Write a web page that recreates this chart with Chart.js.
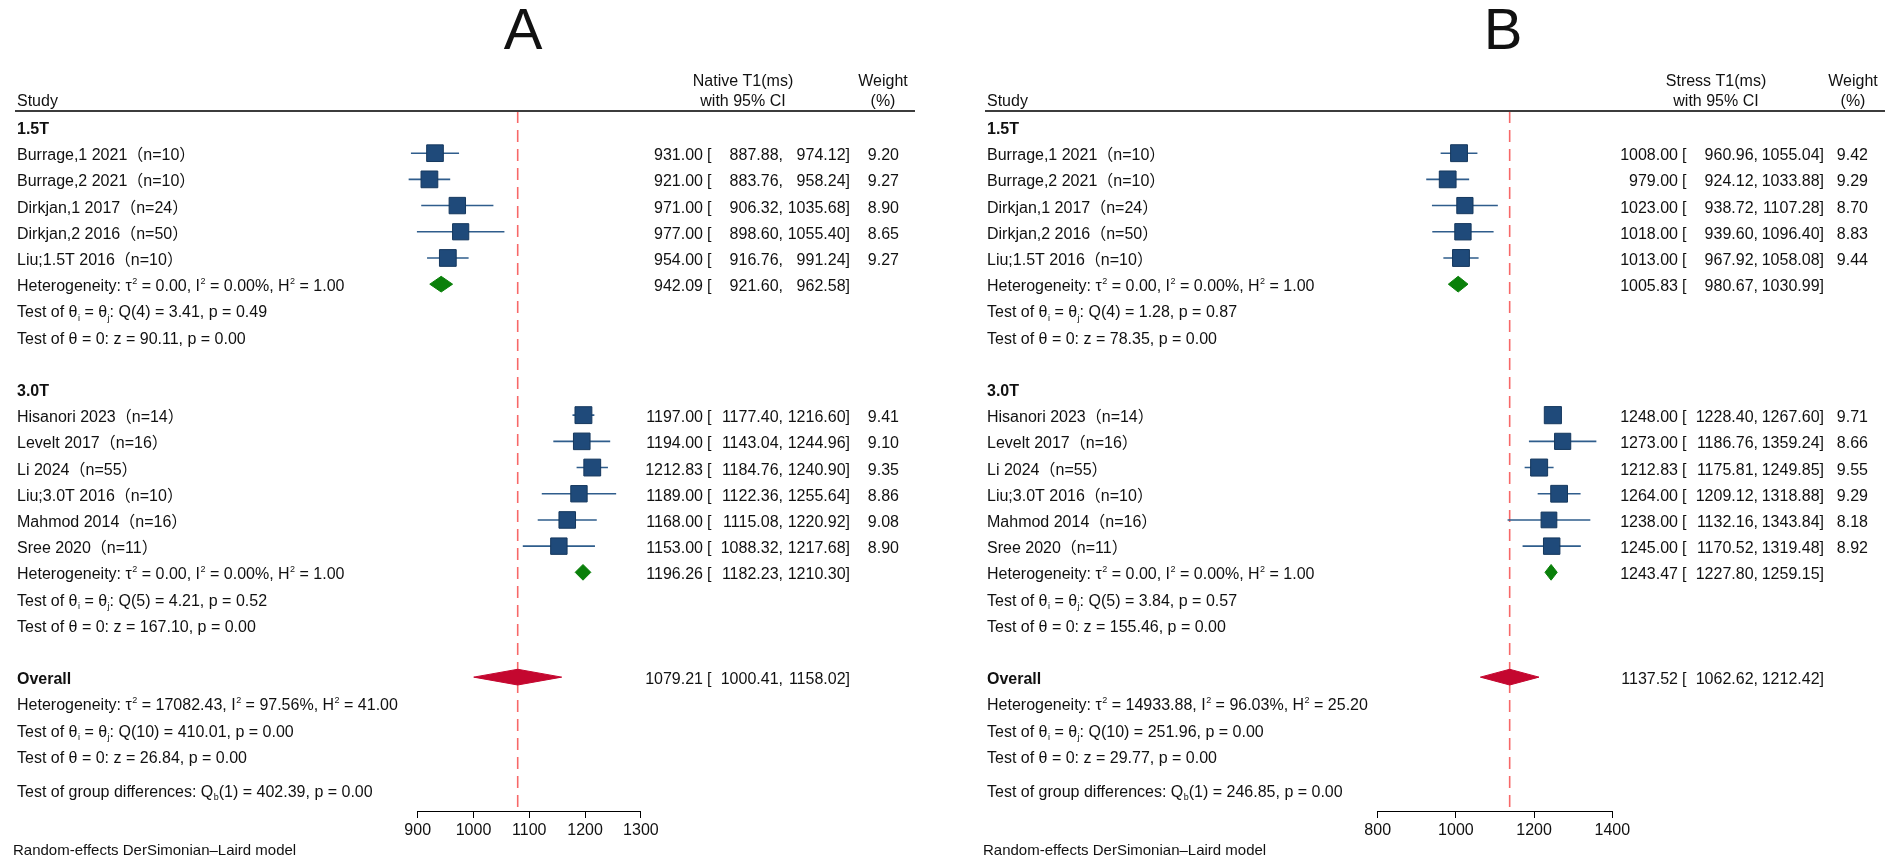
<!DOCTYPE html>
<html>
<head>
<meta charset="utf-8">
<script src="https://cdn.jsdelivr.net/npm/chart.js@4.4.1/dist/chart.umd.min.js"></script>
<style>
  html, body { margin: 0; padding: 0; background: #fff; }
  #wrap { position: relative; width: 1893px; height: 862px; }
  canvas { position: absolute; left: 0; top: 0; }
</style>
</head>
<body>
<div id="wrap">
  <canvas id="panelA" width="1893" height="862"></canvas>
  <canvas id="panelB" width="1893" height="862"></canvas>
</div>
<script>
// ---- studies (same for both panels)
const studies15 = ["Burrage,1 2021（n=10）", "Burrage,2 2021（n=10）", "Dirkjan,1 2017（n=24）", "Dirkjan,2 2016（n=50）", "Liu;1.5T 2016（n=10）"];
const studies30 = ["Hisanori 2023（n=14）", "Levelt 2017（n=16）", "Li 2024（n=55）", "Liu;3.0T 2016（n=10）", "Mahmod 2014（n=16）", "Sree 2020（n=11）"];

// ---- A : native T1
const nativeEst15 = [931.00, 921.00, 971.00, 977.00, 954.00];
const nativeLo15  = [887.88, 883.76, 906.32, 898.60, 916.76];
const nativeHi15  = [974.12, 958.24, 1035.68, 1055.40, 991.24];
const nativeW15   = [9.20, 9.27, 8.90, 8.65, 9.27];
const nativeEst30 = [1197.00, 1194.00, 1212.83, 1189.00, 1168.00, 1153.00];
const nativeLo30  = [1177.40, 1143.04, 1184.76, 1122.36, 1115.08, 1088.32];
const nativeHi30  = [1216.60, 1244.96, 1240.90, 1255.64, 1220.92, 1217.68];
const nativeW30   = [9.41, 9.10, 9.35, 8.86, 9.08, 8.90];
// pooled: 1.5T, 3.0T, overall
const nativePooled   = [942.09, 1196.26, 1079.21];
const nativePooledLo = [921.60, 1182.23, 1000.41];
const nativePooledHi = [962.58, 1210.30, 1158.02];
const nativeTicks = [900, 1000, 1100, 1200, 1300];
const nativeStats15 = ["Heterogeneity: τ^{2} = 0.00, I^{2} = 0.00%, H^{2} = 1.00", "Test of θ_{i} = θ_{j}: Q(4) = 3.41, p = 0.49", "Test of θ = 0: z = 90.11, p = 0.00"];
const nativeStats30 = ["Heterogeneity: τ^{2} = 0.00, I^{2} = 0.00%, H^{2} = 1.00", "Test of θ_{i} = θ_{j}: Q(5) = 4.21, p = 0.52", "Test of θ = 0: z = 167.10, p = 0.00"];
const nativeStatsAll = ["Heterogeneity: τ^{2} = 17082.43, I^{2} = 97.56%, H^{2} = 41.00", "Test of θ_{i} = θ_{j}: Q(10) = 410.01, p = 0.00", "Test of θ = 0: z = 26.84, p = 0.00"];
const nativeGroupTest = "Test of group differences: Q_{b}(1) = 402.39, p = 0.00";

// ---- B : stress T1
const stressEst15 = [1008.00, 979.00, 1023.00, 1018.00, 1013.00];
const stressLo15  = [960.96, 924.12, 938.72, 939.60, 967.92];
const stressHi15  = [1055.04, 1033.88, 1107.28, 1096.40, 1058.08];
const stressW15   = [9.42, 9.29, 8.70, 8.83, 9.44];
const stressEst30 = [1248.00, 1273.00, 1212.83, 1264.00, 1238.00, 1245.00];
const stressLo30  = [1228.40, 1186.76, 1175.81, 1209.12, 1132.16, 1170.52];
const stressHi30  = [1267.60, 1359.24, 1249.85, 1318.88, 1343.84, 1319.48];
const stressW30   = [9.71, 8.66, 9.55, 9.29, 8.18, 8.92];
const stressPooled   = [1005.83, 1243.47, 1137.52];
const stressPooledLo = [980.67, 1227.80, 1062.62];
const stressPooledHi = [1030.99, 1259.15, 1212.42];
const stressTicks = [800, 1000, 1200, 1400];
const stressStats15 = ["Heterogeneity: τ^{2} = 0.00, I^{2} = 0.00%, H^{2} = 1.00", "Test of θ_{i} = θ_{j}: Q(4) = 1.28, p = 0.87", "Test of θ = 0: z = 78.35, p = 0.00"];
const stressStats30 = ["Heterogeneity: τ^{2} = 0.00, I^{2} = 0.00%, H^{2} = 1.00", "Test of θ_{i} = θ_{j}: Q(5) = 3.84, p = 0.57", "Test of θ = 0: z = 155.46, p = 0.00"];
const stressStatsAll = ["Heterogeneity: τ^{2} = 14933.88, I^{2} = 96.03%, H^{2} = 25.20", "Test of θ_{i} = θ_{j}: Q(10) = 251.96, p = 0.00", "Test of θ = 0: z = 29.77, p = 0.00"];
const stressGroupTest = "Test of group differences: Q_{b}(1) = 246.85, p = 0.00";

// ---- styles
const FONT = '"Liberation Sans", Arial, "Noto Sans CJK SC", sans-serif';
const TXT = "#111";
const SQ_FILL = "#1f4a7a", SQ_EDGE = "#15385e", CI_COL = "#2f5d8c";
const GREEN = "#0a800a", RED = "#c4072f", DASH = "#f76868";
const W = 1893, H = 862;
const ROW_TOP = 111, ROW_BOTTOM = 811;      // header rule / axis line
const Y_MIN = -0.61, Y_MAX = 26.11;
const DIA_H = 0.3;

function font(size, bold) { return (bold ? "bold " : "") + size + "px " + FONT; }

function drawRich(ctx, str, x, y, size, bold) {
  const parts = str.split(/(\^\{[^}]*\}|_\{[^}]*\})/);
  let cx = x;
  for (const part of parts) {
    if (!part) continue;
    if (part[0] === "^" || part[0] === "_") {
      const t = part.slice(2, -1);
      ctx.font = font(Math.round(size * 0.58), bold);
      const dy = part[0] === "^" ? -size * 0.45 : size * 0.2;
      ctx.fillText(t, cx + 0.5, y + dy);
      cx += ctx.measureText(t).width + 0.5;
    } else {
      ctx.font = font(size, bold);
      ctx.fillText(part, cx, y);
      cx += ctx.measureText(part).width;
    }
  }
}

function makePanel(id, p, L) {
  const rows = [];
  const squares = [], sqRadius = [], ciLine = [], diamonds = [];
  const groups = [
    { name: "1.5T", labels: studies15, est: p.est15, lo: p.lo15, hi: p.hi15, w: p.w15, stats: p.stats15 },
    { name: "3.0T", labels: studies30, est: p.est30, lo: p.lo30, hi: p.hi30, w: p.w30, stats: p.stats30 }
  ];
  let r = 0;
  groups.forEach((g, gi) => {
    rows.push({ y: r++, text: g.name, bold: true });
    g.labels.forEach((lab, i) => {
      rows.push({ y: r, text: lab, est: g.est[i], lo: g.lo[i], hi: g.hi[i], w: g.w[i] });
      squares.push({ x: g.est[i], y: r });
      sqRadius.push(5.5 * Math.sqrt(g.w[i]) / Math.SQRT2);
      ciLine.push({ x: g.lo[i], y: r }, { x: g.hi[i], y: r }, { x: null, y: null });
      r++;
    });
    rows.push({ y: r, text: g.stats[0], est: p.pooled[gi], lo: p.pooledLo[gi], hi: p.pooledHi[gi] });
    diamonds.push({ est: p.pooled[gi], lo: p.pooledLo[gi], hi: p.pooledHi[gi], y: r, color: GREEN });
    r++;
    rows.push({ y: r++, text: g.stats[1] });
    rows.push({ y: r++, text: g.stats[2] });
    r++;
  });
  rows.push({ y: r, text: "Overall", bold: true, est: p.pooled[2], lo: p.pooledLo[2], hi: p.pooledHi[2] });
  diamonds.push({ est: p.pooled[2], lo: p.pooledLo[2], hi: p.pooledHi[2], y: r, color: RED });
  r++;
  p.statsAll.forEach(s => rows.push({ y: r++, text: s }));
  rows.push({ y: r + 0.3, text: p.groupTest });

  const datasets = [
    {
      data: squares, pointStyle: "rect", pointRadius: sqRadius, pointHoverRadius: sqRadius,
      backgroundColor: SQ_FILL, borderColor: SQ_EDGE, borderWidth: 1, order: 0, clip: false
    },
    {
      data: ciLine, showLine: true, spanGaps: false, pointRadius: 0, borderColor: CI_COL,
      borderWidth: 1.6, order: 1, clip: false
    },
    {
      data: [{ x: p.pooled[2], y: Y_MIN }, { x: p.pooled[2], y: Y_MAX }], showLine: true,
      pointRadius: 0, borderColor: DASH, borderWidth: 1.6, borderDash: [12, 7], order: 3
    }
  ];
  diamonds.forEach(d => datasets.push({
    data: [{ x: d.lo, y: d.y }, { x: d.est, y: d.y - DIA_H }, { x: d.hi, y: d.y }, { x: d.est, y: d.y + DIA_H }, { x: d.lo, y: d.y }],
    showLine: true, fill: "shape", pointRadius: 0, tension: 0,
    backgroundColor: d.color, borderColor: d.color, borderWidth: 1, order: 0
  }));

  const textPlugin = {
    id: "forestText" + id,
    afterDraw(chart) {
      const ctx = chart.ctx, ys = chart.scales.y;
      ctx.save();
      ctx.fillStyle = TXT;
      ctx.textBaseline = "alphabetic";
      // panel letter
      ctx.font = font(58, false);
      ctx.textAlign = "center";
      ctx.fillText(L.letter, L.titleX, 49);
      // headers
      ctx.font = font(16, false);
      ctx.fillText(p.header[0], L.headC, 86);
      ctx.fillText(p.header[1], L.headC, 106);
      ctx.fillText("Weight", L.wC, 86);
      ctx.fillText("(%)", L.wC, 106);
      ctx.textAlign = "left";
      ctx.fillText("Study", L.labelX, 106);
      ctx.strokeStyle = "#3c3c3c";
      ctx.lineWidth = 2;
      ctx.beginPath();
      ctx.moveTo(L.lineL, ROW_TOP);
      ctx.lineTo(L.lineR, ROW_TOP);
      ctx.stroke();
      // rows
      rows.forEach(row => {
        const yy = ys.getPixelForValue(row.y) + 7;
        ctx.textAlign = "left";
        drawRich(ctx, row.text, L.labelX, yy, 16, row.bold);
        ctx.font = font(16, false);
        if (row.est !== undefined) {
          ctx.textAlign = "right";
          ctx.fillText(row.est.toFixed(2), L.estR, yy);
          ctx.fillText(row.lo.toFixed(2) + ",", L.loR, yy);
          ctx.fillText(row.hi.toFixed(2) + "]", L.hiR, yy);
          ctx.textAlign = "left";
          ctx.fillText("[", L.brX, yy);
        }
        if (row.w !== undefined) {
          ctx.textAlign = "right";
          ctx.fillText(row.w.toFixed(2), L.wR, yy);
        }
      });
      ctx.textAlign = "left";
      ctx.font = font(15, false);
      ctx.fillText("Random-effects DerSimonian\u2013Laird model", L.labelX - 4, 855);
      ctx.restore();
    }
  };

  return new Chart(document.getElementById(id), {
    type: "scatter",
    data: { datasets },
    options: {
      responsive: false,
      devicePixelRatio: 1,
      animation: false,
      events: [],
      layout: { padding: { left: L.left, right: W - L.right, top: ROW_TOP, bottom: 18.8 } },
      plugins: { legend: { display: false }, tooltip: { enabled: false } },
      scales: {
        x: {
          type: "linear",
          min: p.ticks[0],
          max: p.ticks[p.ticks.length - 1],
          afterBuildTicks: s => { s.ticks = p.ticks.map(v => ({ value: v })); },
          afterFit: s => { s.paddingLeft = 0; s.paddingRight = 0; },
          ticks: { callback: v => String(v), color: TXT, padding: 3, font: { family: FONT, size: 16 }, maxRotation: 0, autoSkip: false },
          grid: { display: true, drawOnChartArea: false, drawTicks: true, tickLength: 7, color: "#000", lineWidth: 1 },
          border: { display: true, color: "#000", width: 1 }
        },
        y: { type: "linear", reverse: true, min: Y_MIN, max: Y_MAX, display: false }
      }
    },
    plugins: [textPlugin]
  });
}

makePanel("panelA", {
  est15: nativeEst15, lo15: nativeLo15, hi15: nativeHi15, w15: nativeW15,
  est30: nativeEst30, lo30: nativeLo30, hi30: nativeHi30, w30: nativeW30,
  pooled: nativePooled, pooledLo: nativePooledLo, pooledHi: nativePooledHi,
  stats15: nativeStats15, stats30: nativeStats30, statsAll: nativeStatsAll,
  groupTest: nativeGroupTest, ticks: nativeTicks, header: ["Native T1(ms)", "with 95% CI"]
}, { letter: "A", titleX: 523, left: 417.7, right: 640.9, labelX: 17, estR: 703, brX: 707, loR: 783, hiR: 850, wR: 899,
     headC: 743, wC: 883, lineL: 15, lineR: 915 });

makePanel("panelB", {
  est15: stressEst15, lo15: stressLo15, hi15: stressHi15, w15: stressW15,
  est30: stressEst30, lo30: stressLo30, hi30: stressHi30, w30: stressW30,
  pooled: stressPooled, pooledLo: stressPooledLo, pooledHi: stressPooledHi,
  stats15: stressStats15, stats30: stressStats30, statsAll: stressStatsAll,
  groupTest: stressGroupTest, ticks: stressTicks, header: ["Stress T1(ms)", "with 95% CI"]
}, { letter: "B", titleX: 1503, left: 1377.7, right: 1612.3, labelX: 987, estR: 1678, brX: 1682, loR: 1758, hiR: 1824, wR: 1868,
     headC: 1716, wC: 1853, lineL: 985, lineR: 1885 });
</script>
</body>
</html>
